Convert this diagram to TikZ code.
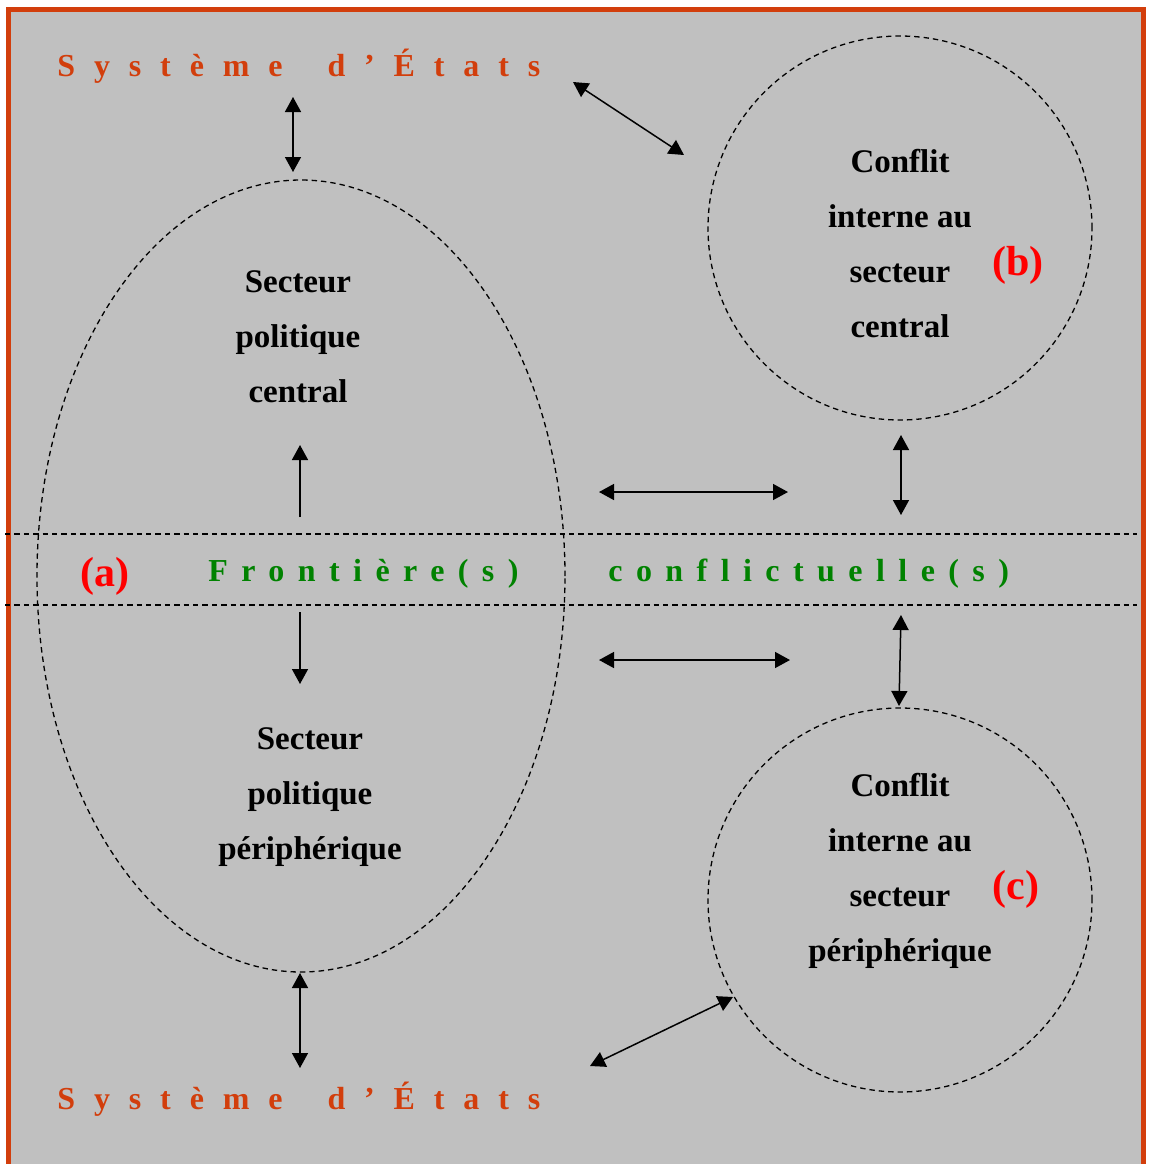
\documentclass[tikz,border=0pt]{standalone}
\usepackage{fontspec}
\setmainfont{Liberation Serif}
\newfontfamily\statesfont[LetterSpace=59]{Liberation Serif}
\newfontfamily\frontfont[LetterSpace=42]{Liberation Serif}
\usetikzlibrary{arrows.meta, positioning, shapes.geometric}

\definecolor{frame}{RGB}{210,62,12}
\definecolor{paper}{RGB}{192,192,192}
\definecolor{frontgreen}{RGB}{0,130,0}
\definecolor{tagred}{RGB}{255,0,0}

\begin{document}
\begin{tikzpicture}[
    x=0.5pt, y=-0.5pt,
    zone/.style     = {ellipse, draw, line width=0.65pt, dash pattern=on 2.7pt off 2pt,
                       minimum width=264pt, minimum height=396pt, inner sep=0pt},
    conflict/.style = {circle, draw, line width=0.65pt, dash pattern=on 2.7pt off 2pt,
                       minimum size=192pt, inner sep=0pt},
    sector/.style   = {align=center, inner sep=0pt, font=\bfseries\fontsize{16.5}{27.5}\selectfont},
    tag/.style      = {text=tagred, inner sep=0pt, font=\bfseries\fontsize{21}{25}\selectfont},
    states/.style   = {anchor=base west, inner sep=0pt, text=frame,
                       font=\statesfont\bfseries\fontsize{16}{19}\selectfont},
    front/.style    = {anchor=base west, inner sep=0pt, text=frontgreen,
                       font=\frontfont\bfseries\fontsize{16}{19}\selectfont},
    band/.style     = {line width=0.65pt, dash pattern=on 2.7pt off 2pt},
    arrow/.style    = {line width=0.75pt, {Triangle[length=7.5pt,width=8pt]}-{Triangle[length=7.5pt,width=8pt]}},
    oneway/.style   = {line width=0.75pt, -{Triangle[length=7.5pt,width=8pt]}}
]

% =====================
% Background and frame
% =====================
\fill[white] (0,0) rectangle (1148,1164);
\useasboundingbox (0,0) rectangle (1148,1164);
\filldraw[fill=paper, draw=frame, line width=2.5pt] (8.5,9) rectangle (1143.5,1185);

% =====================
% Regions
% =====================

% (a) political sectors
\node[zone] (ell) at (301,576) {};

% (b) and (c) internal conflicts
\node[conflict] (cb) at (900,228) {};
\node[conflict] (cc) at (900,900) {};

% =====================
% Texts
% =====================
\node[sector] (central) at (298,337) {Secteur\\politique\\central};
\node[sector] (periph) at (310,797) {Secteur\\politique\\périphérique};
\node[sector] (cbtext) at (900,244) {Conflit\\interne au\\secteur\\central};
\node[sector] (cctext) at (900,871) {Conflit\\interne au\\secteur\\périphérique};

\node[tag] (taga) at (105,576) {(a)};
\node[tag] (tagb) at (1018,265) {(b)};
\node[tag] (tagc) at (1016,889) {(c)};

\node[states] (systop) at (57,76) {Système\hspace{9pt} d’États};
\node[states] (sysbot) at (57,1109) {Système\hspace{9pt} d’États};

\node[front] (frontieres) at (208,581) {Frontière(s)};
\node[front] (conflictuelles) at (608,581) {conflictuelle(s)};

% =====================
% Border band
% =====================
\coordinate (bandtopL) at (5,534);
\coordinate (bandtopR) at (1137,534);
\coordinate (bandbotL) at (5,605);
\coordinate (bandbotR) at (1137,605);
\draw[band] (bandtopL) -- (bandtopR);
\draw[band] (bandbotL) -- (bandbotR);

% =====================
% Arrow ends
% =====================
\coordinate (sysA) at (293,97);
\coordinate (ellA) at (293,172);
\coordinate (sysB) at (573,82);
\coordinate (cbA) at (684,155);
\coordinate (upA) at (300,517);
\coordinate (upB) at (300,445);
\coordinate (downA) at (300,612);
\coordinate (downB) at (300,684);
\coordinate (hzA) at (599,492);
\coordinate (hzB) at (788,492);
\coordinate (hzC) at (599,660);
\coordinate (hzD) at (790,660);
\coordinate (cbB) at (901,435);
\coordinate (bandA) at (901,515);
\coordinate (bandB) at (901,615);
\coordinate (ccA) at (899,706);
\coordinate (ellB) at (300,973);
\coordinate (sysC) at (300,1068);
\coordinate (sysD) at (590,1066);
\coordinate (ccB) at (733,997);

% =====================
% Connections
% =====================
\draw[arrow] (sysA) -- (ellA);
\draw[arrow] (sysB) -- (cbA);
\draw[oneway] (upA) -- (upB);
\draw[oneway] (downA) -- (downB);
\draw[arrow] (hzA) -- (hzB);
\draw[arrow] (hzC) -- (hzD);
\draw[arrow] (cbB) -- (bandA);
\draw[arrow] (bandB) -- (ccA);
\draw[arrow] (ellB) -- (sysC);
\draw[arrow] (sysD) -- (ccB);

\end{tikzpicture}
\end{document}
